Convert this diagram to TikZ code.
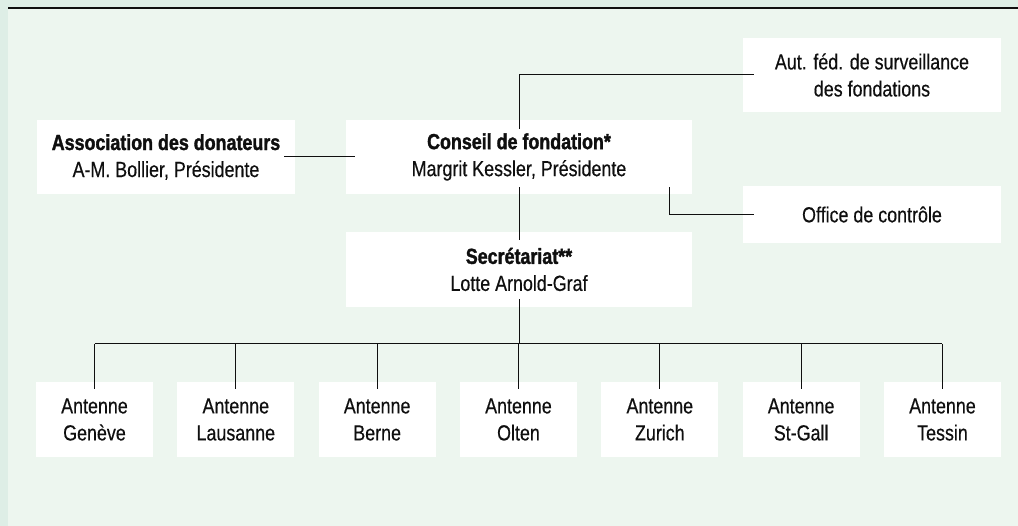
\documentclass[tikz,border=0pt]{standalone}
\usepackage{fontspec}
\setmainfont[FakeStretch=0.82, FakeBold=0.4, BoldFeatures={FakeBold=1.5}]{Liberation Sans}
\definecolor{outerbg}{RGB}{222,238,230}
\definecolor{innerbg}{RGB}{237,246,239}
\definecolor{ink}{RGB}{15,15,15}
\begin{document}
\begin{tikzpicture}[x=1pt,y=-1pt,
  box/.style={fill=white, inner sep=0pt, align=center, text=ink,
    font=\fontsize{21.8}{27}\selectfont},
  wide/.style={box, minimum width=258pt, minimum height=74pt},
  mid/.style={box, minimum width=346pt, minimum height=74pt},
  ant/.style={box, minimum width=117pt, minimum height=75pt},
  conn/.style={draw=ink, line width=1pt}]
\useasboundingbox (0,0) rectangle (1018,526);
\fill[outerbg] (0,0) rectangle (1018,526);
\fill[innerbg] (8,8) rectangle (1018,526);
\draw[ink, line width=1.2pt] (8,8) -- (1018,8);

\node[wide] (assoc) at (166,157) {\textbf{Association des donateurs}\\A-M. Bollier, Présidente};
\node[mid] (conseil) at (519,157) {\textbf{Conseil de fondation*}\\Margrit Kessler, Présidente};
\node[mid, minimum height=75pt] (secr) at (519,269.5) {\textbf{Secrétariat**}\\Lotte Arnold-Graf};
\node[wide] (aut) at (872,75) {Aut. féd. de surveillance\\des fondations};
\node[wide, minimum height=57pt] (office) at (872,214.5) {Office de contrôle};

\foreach \i/\name in {1/Genève,2/Lausanne,3/Berne,4/Olten,5/Zurich,6/St-Gall,7/Tessin}
  \node[ant] (a\i) at ({94.5+141.33*(\i-1)},419.5) {Antenne\\\name};

\coordinate (bus) at (519,344);

\draw[conn] ([xshift=-11pt]assoc.east) -- ([xshift=9pt]conseil.west);
\draw[conn] ([yshift=-9pt]conseil.north) |- ([xshift=11pt]aut.west);
\draw[conn] ([yshift=7pt]conseil.south) -- ([yshift=-8pt]secr.north);
\draw[conn] ([xshift=-23pt,yshift=7pt]conseil.south east) |- ([xshift=11pt]office.west);
\draw[conn] ([yshift=8pt]secr.south) -- (bus);
\draw[conn] (a1.north |- bus) -- (a7.north |- bus);
\foreach \i in {1,...,7}
  \draw[conn] (a\i.north |- bus) -- ([yshift=-7pt]a\i.north);
\end{tikzpicture}
\end{document}
